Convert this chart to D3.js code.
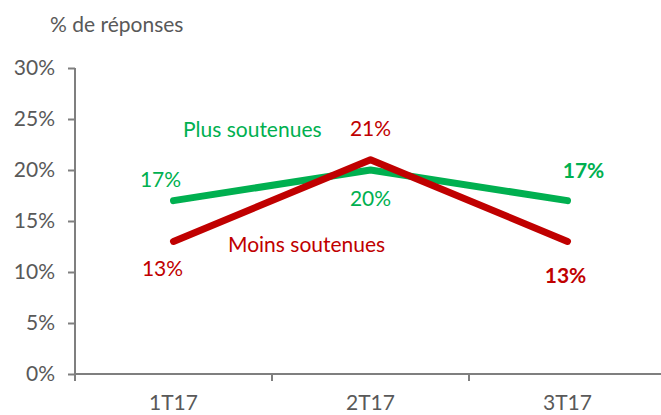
<!DOCTYPE html>
<html><head><meta charset="utf-8">
<script src="https://cdn.jsdelivr.net/npm/d3@7"></script>
<style>body{margin:0;background:#fff}svg{display:block}text{font-family:Lato,"Open Sans",sans-serif}</style>
</head><body>
<svg id="c" width="661" height="415"></svg>
<script>
const categories = ["1T17","2T17","3T17"];
const plusSoutenues = [17,20,17];
const moinsSoutenues = [13,21,13];
const yTicks = [0,5,10,15,20,25,30];
const yTitle = "% de réponses";
const seriesNames = ["Plus soutenues","Moins soutenues"];

const FS = 21;
const svg = d3.select("#c");
const x = d3.scaleBand().domain(categories).range([75,666]);
const y = d3.scaleLinear().domain([0,30]).range([374,68]);
const grey = "#595959", axisCol = "#7f7f7f";
const green = "#00B050", red = "#C00000";

// axes
const yAxis = svg.append("g").attr("transform","translate(75,0)")
  .call(d3.axisLeft(y).tickValues(yTicks).tickSize(7).tickFormat(d=>d+"%"));
const xAxis = svg.append("g").attr("transform","translate(0,374)")
  .call(d3.axisBottom(x).tickSize(0).tickPadding(0));
[yAxis,xAxis].forEach(a=>{
  a.select(".domain").attr("stroke",axisCol).attr("stroke-width",2);
  a.selectAll(".tick line").attr("stroke",axisCol).attr("stroke-width",2);
  a.selectAll("text").attr("fill",grey).attr("font-size",FS);
});
yAxis.select(".domain").attr("d","M0,68V375");
xAxis.select(".domain").attr("d","M74,0H661");
yAxis.selectAll(".tick text").attr("x",-20);
xAxis.selectAll(".tick text").attr("dy",null).attr("y",36);
// x separators
const bounds = categories.map(c=>x(c));
xAxis.selectAll(".sep").data(bounds).join("line").attr("class","sep")
  .attr("x1",d=>d).attr("x2",d=>d).attr("y1",0).attr("y2",7)
  .attr("stroke",axisCol).attr("stroke-width",2);

svg.append("text").attr("x",50).attr("y",32).attr("fill",grey).attr("font-size",FS).text(yTitle);

const cx = c => x(c)+x.bandwidth()/2;
const line = d3.line().x((d,i)=>cx(categories[i])).y(d=>y(d));
svg.append("path").attr("d",line(plusSoutenues)).attr("fill","none").attr("stroke",green)
  .attr("stroke-width",7).attr("stroke-linecap","round").attr("stroke-linejoin","round");
svg.append("path").attr("d",line(moinsSoutenues)).attr("fill","none").attr("stroke",red)
  .attr("stroke-width",7).attr("stroke-linecap","round").attr("stroke-linejoin","round");

// data labels
const greenOff = [[-13,-14],[0,36],[16,-23]];
const redOff = [[-11,35],[0,-24],[-2,42]];
plusSoutenues.forEach((v,i)=>{
  svg.append("text").attr("x",cx(categories[i])+greenOff[i][0]).attr("y",y(v)+greenOff[i][1])
    .attr("text-anchor","middle").attr("fill",green).attr("font-size",FS)
    .attr("font-weight",i===2?"bold":"normal").text(v+"%");
});
moinsSoutenues.forEach((v,i)=>{
  svg.append("text").attr("x",cx(categories[i])+redOff[i][0]).attr("y",y(v)+redOff[i][1])
    .attr("text-anchor","middle").attr("fill",red).attr("font-size",FS)
    .attr("font-weight",i===2?"bold":"normal").text(v+"%");
});
svg.append("text").attr("x",183).attr("y",137).attr("fill",green).attr("font-size",FS).text(seriesNames[0]);
svg.append("text").attr("x",228).attr("y",252).attr("fill",red).attr("font-size",FS).text(seriesNames[1]);
</script>
</body></html>
